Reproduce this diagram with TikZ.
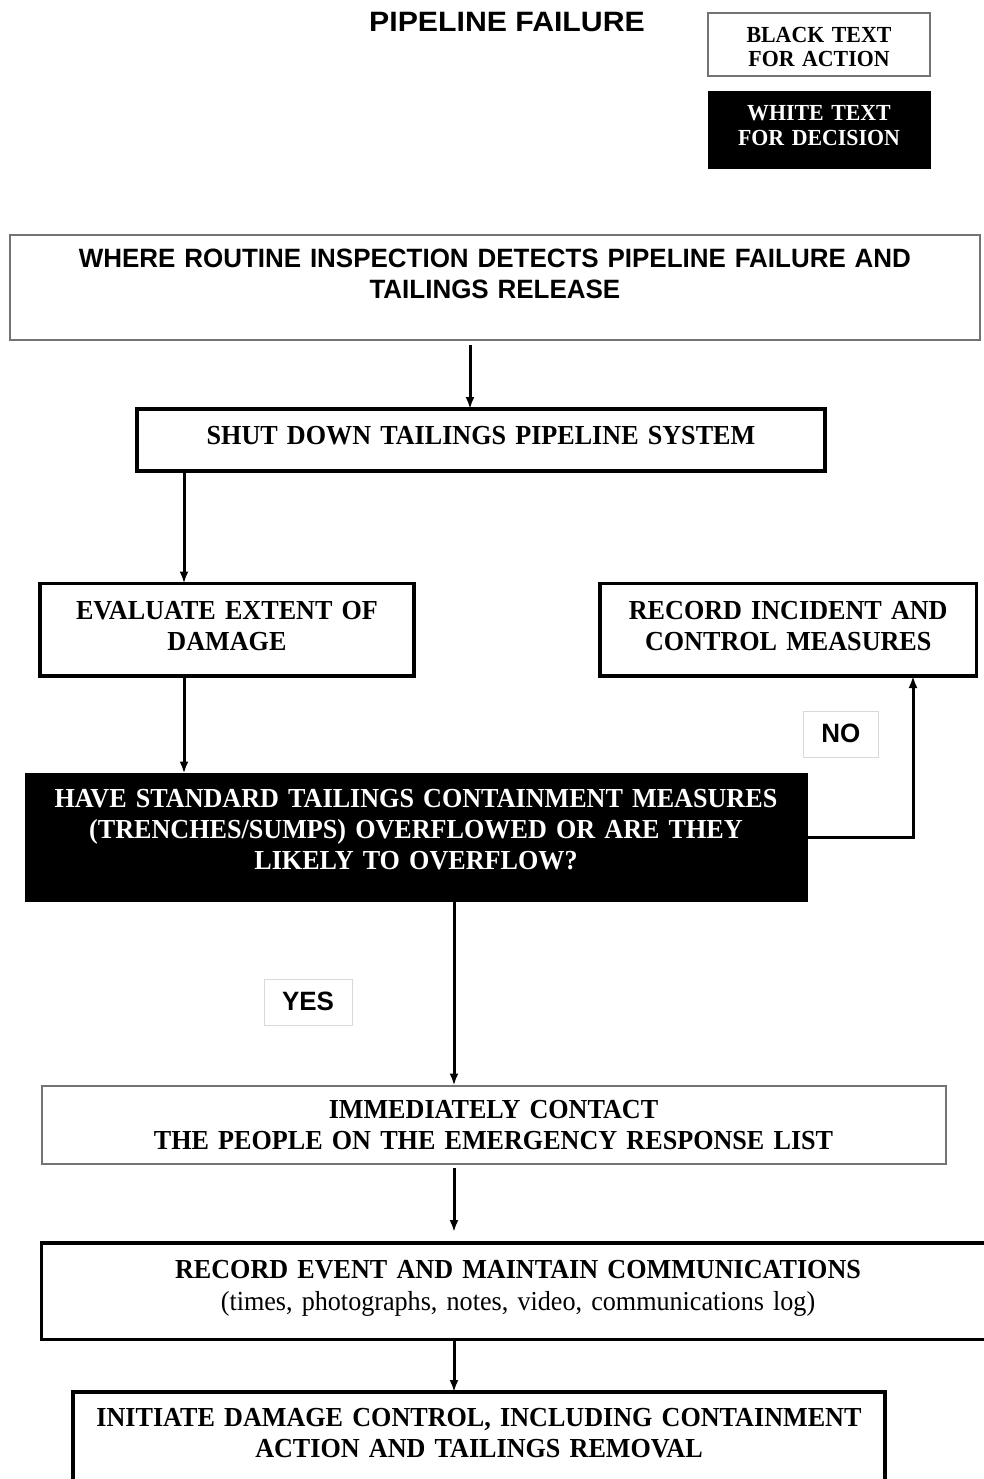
\documentclass[tikz,border=0pt]{standalone}
\usepackage{fontspec}
\setmainfont{Liberation Serif}[FakeStretch=0.95]
\newfontfamily\sansfam{Liberation Sans}[FakeStretch=0.98]
\newfontfamily\titlefam{Liberation Sans}[FakeStretch=1.08]
\usetikzlibrary{arrows.meta}
\begin{document}
\begin{tikzpicture}[x=1pt,y=-1pt,
  sfont/.style={font=\fontsize{27.5}{31}\selectfont\bfseries},
  legfont/.style={font=\fontsize{23}{24.5}\selectfont\bfseries},
  sansfont/.style={font=\sansfam\fontsize{26.5}{31}\selectfont\bfseries},
  basebox/.style={anchor=north west, inner sep=0pt, outer sep=0pt, align=center},
  thickbox/.style={basebox, draw=black, line width=3.5pt, sfont},
  graybox/.style={basebox, draw=black!55, line width=2pt},
  decbox/.style={basebox, draw=black, fill=black, text=white, line width=1pt},
  lblbox/.style={basebox, draw=black!15, line width=1pt, sansfont},
  arr/.style={-{Latex[length=12pt,width=9pt]}, line width=3pt}
]
\useasboundingbox (0,0) rectangle (984,1479);
\clip (0,0) rectangle (984,1479);

% column coordinates for connectors
\coordinate (xA) at (470,0);
\coordinate (xB) at (184,0);
\coordinate (xC) at (913,0);
\coordinate (xD) at (454,0);

% title and legend
\node[font=\titlefam\fontsize{28}{30}\selectfont\bfseries, anchor=center] (title) at (507,22) {PIPELINE FAILURE};
\node[graybox, legfont, text width=222pt, text height=28.8pt, text depth=34.2pt] (legA) at (708,13.5) {BLACK TEXT\\FOR ACTION};
\node[decbox, legfont, text width=222pt, text height=29.4pt, text depth=47.6pt] (legD) at (708,91.5) {WHITE TEXT\\FOR DECISION};

% flow boxes
\node[graybox, sansfont, text width=969.2pt, text height=32.8pt, text depth=72.8pt] (top) at (10.3,234.7)
  {WHERE ROUTINE INSPECTION DETECTS PIPELINE FAILURE AND\\TAILINGS RELEASE};
\node[thickbox, text width=688pt, text height=35.6pt, text depth=26.4pt] (shut) at (137,409)
  {SHUT DOWN TAILINGS PIPELINE SYSTEM};
\node[thickbox, text width=374pt, text height=35.6pt, text depth=56.9pt] (eval) at (40,583.5)
  {EVALUATE EXTENT OF\\DAMAGE};
\node[thickbox, text width=376.5pt, text height=35.6pt, text depth=56.9pt] (rec) at (600,583.5)
  {RECORD INCIDENT AND\\CONTROL MEASURES};
\node[decbox, sfont, text width=782pt, text height=34.1pt, text depth=93.9pt] (dec) at (25,773.5)
  {HAVE STANDARD TAILINGS CONTAINMENT MEASURES\\(TRENCHES/SUMPS) OVERFLOWED OR ARE THEY\\LIKELY TO OVERFLOW?};
\node[lblbox, text width=74.5pt, text height=31.8pt, text depth=14.7pt] (no) at (803.5,711) {NO};
\node[lblbox, text width=88pt, text height=31.5pt, text depth=14.5pt] (yes) at (264,979) {YES};
\node[graybox, sfont, text width=904pt, text height=32.6pt, text depth=45.4pt] (imm) at (41.5,1085.5)
  {IMMEDIATELY CONTACT\\THE PEOPLE ON THE EMERGENCY RESPONSE LIST};
\node[thickbox, text width=953pt, text height=35.1pt, text depth=61.4pt] (recev) at (41.5,1243)
  {RECORD EVENT AND MAINTAIN COMMUNICATIONS\\[1pt]{\mdseries (times, photographs, notes, video, communications log)}};
\node[thickbox, text width=812pt, text height=34.1pt, text depth=73.9pt] (init) at (73,1392)
  {INITIATE DAMAGE CONTROL, INCLUDING CONTAINMENT\\ACTION AND TAILINGS REMOVAL};

% connectors
\draw[arr, shorten <=4.5pt] (top.south -| xA) -- (shut.north -| xA);
\draw[arr] (shut.south -| xB) -- (eval.north -| xB);
\draw[arr] (eval.south -| xB) -- (dec.north -| xB);
\draw[arr] (dec.east) -| (rec.south -| xC);
\draw[arr] (dec.south -| xD) -- (imm.north -| xD);
\draw[arr, shorten <=4.5pt, shorten >=11pt] (imm.south -| xD) -- (recev.north -| xD);
\draw[arr] (recev.south -| xD) -- (init.north -| xD);
\end{tikzpicture}
\end{document}
